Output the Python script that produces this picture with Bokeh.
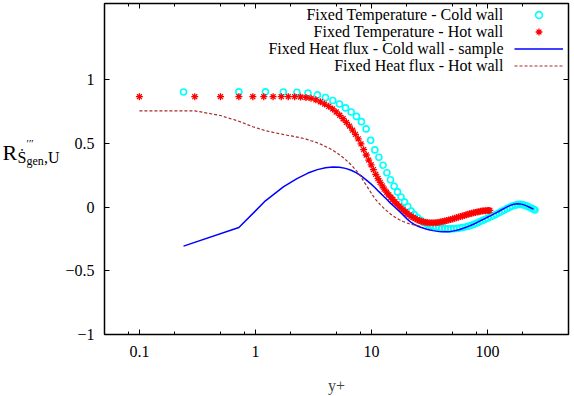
from bokeh.plotting import figure
from bokeh.layouts import row
from bokeh.models import (ColumnDataSource, FixedTicker, LogAxis, LinearAxis,
                          Range1d, Label, Legend, LegendItem, BasicTickFormatter)
from bokeh.core.properties import value
from bokeh.embed import file_html
from bokeh.resources import INLINE

# ---- data ---------------------------------------------------------------
# Fixed temperature, cold wall
ft_cold_y = [0.24, 0.72, 1.22, 1.74, 2.28, 2.84, 3.42, 4.02, 4.65, 5.30, 5.98,
             6.69, 7.43, 8.20, 9.0, 9.85, 10.7, 11.6, 12.6, 13.6, 14.6, 15.7,
             16.8, 18.0, 19.3, 20.6, 22.0, 23.4, 25.0, 26.6, 28.3, 30.1, 32.0,
             34.0, 36.1, 38.3, 40.6, 43.1, 45.7, 48.4, 51.3, 54.4, 57.6, 61.0,
             64.6, 68.4, 72.4, 76.6, 81.0, 85.7, 90.6, 95.8, 101, 107, 113,
             119, 126, 133, 140, 148, 156, 164, 173, 182, 191, 200, 210, 220,
             230, 240, 250, 257]
ft_cold_r = [0.905, 0.906, 0.906, 0.905, 0.903, 0.897, 0.882, 0.862, 0.838,
             0.810, 0.780, 0.748, 0.713, 0.672, 0.615, 0.525, 0.450, 0.392,
             0.330, 0.270, 0.215, 0.165, 0.120, 0.080, 0.040, 0.005, -0.030,
             -0.058, -0.083, -0.102, -0.120, -0.133, -0.143, -0.151, -0.158,
             -0.163, -0.166, -0.168, -0.170, -0.170, -0.169, -0.167, -0.164,
             -0.160, -0.155, -0.150, -0.143, -0.135, -0.125, -0.115, -0.105,
             -0.095, -0.085, -0.075, -0.065, -0.055, -0.044, -0.033, -0.022,
             -0.011, -0.001, 0.008, 0.015, 0.020, 0.022, 0.020, 0.015, 0.008,
             0.000, -0.008, -0.016, -0.022]

# Fixed temperature, hot wall
ft_hot_y = [0.1, 0.3, 0.5, 0.72, 0.95, 1.18, 1.42, 1.67, 1.92, 2.18, 2.45,
            2.73, 3.02, 3.32, 3.63, 3.95, 4.28, 4.62, 4.97, 5.33, 5.70, 6.08,
            6.47, 6.87, 7.28, 7.70, 8.13, 8.57, 9.02, 9.48, 9.95, 10.4, 10.9,
            11.4, 11.9, 12.4, 12.9, 13.5, 14.1, 14.7, 15.3, 15.9, 16.6, 17.3,
            18.0, 18.7, 19.5, 20.3, 21.1, 22.0, 22.9, 23.8, 24.8, 25.8, 26.8,
            27.9, 29.0, 30.2, 31.4, 32.7, 34.0, 35.4, 36.8, 38.3, 39.8, 41.4,
            43.0, 44.7, 46.5, 48.3, 50.2, 52.2, 54.2, 56.3, 58.5, 60.8, 63.1,
            65.5, 68.0, 70.6, 73.2, 75.9, 78.7, 81.5, 84.4, 87.3, 90.3, 93.3,
            96.4, 99.5, 102.6, 105]
ft_hot_r = [0.868, 0.868, 0.868, 0.868, 0.868, 0.868, 0.868, 0.868, 0.868,
            0.868, 0.866, 0.862, 0.855, 0.843, 0.828, 0.810, 0.792, 0.772,
            0.748, 0.722, 0.695, 0.666, 0.637, 0.605, 0.572, 0.537, 0.497,
            0.452, 0.410, 0.370, 0.333, 0.295, 0.258, 0.225, 0.195, 0.167,
            0.142, 0.118, 0.097, 0.078, 0.060, 0.043, 0.025, 0.008, -0.007,
            -0.021, -0.035, -0.048, -0.060, -0.071, -0.081, -0.090, -0.098,
            -0.105, -0.110, -0.115, -0.118, -0.121, -0.122, -0.123, -0.123,
            -0.122, -0.120, -0.118, -0.115, -0.112, -0.108, -0.104, -0.100,
            -0.096, -0.092, -0.087, -0.083, -0.078, -0.074, -0.069, -0.065,
            -0.060, -0.056, -0.052, -0.048, -0.044, -0.041, -0.038, -0.035,
            -0.032, -0.030, -0.028, -0.027, -0.026, -0.025, -0.025]

# Fixed heat flux, cold wall (sampled)
fq_cold_y = [0.24, 0.72, 1.22, 1.74, 2.28, 2.84, 3.42, 4.02, 4.65, 5.30, 5.98,
             6.69, 7.43, 8.20, 9.0, 9.85, 10.7, 11.6, 12.6, 13.6, 14.6, 15.7,
             16.8, 18.0, 19.3, 20.6, 22.0, 23.4, 25.0, 26.6, 28.3, 30.1, 32.0,
             34.0, 36.1, 38.3, 40.6, 43.1, 45.7, 48.4, 51.3, 54.4, 57.6, 61.0,
             64.6, 68.4, 72.4, 76.6, 81.0, 85.7, 90.6, 95.8, 101, 107, 113,
             119, 126, 133, 140, 148, 156, 164, 173, 182, 191, 200, 210, 220,
             230, 240, 250]
fq_cold_r = [-0.306, -0.160, 0.050, 0.160, 0.225, 0.268, 0.295, 0.310, 0.316,
             0.314, 0.305, 0.290, 0.270, 0.245, 0.215, 0.185, 0.155, 0.122,
             0.090, 0.060, 0.032, 0.005, -0.020, -0.045, -0.072, -0.098,
             -0.120, -0.135, -0.148, -0.158, -0.166, -0.173, -0.179, -0.184,
             -0.188, -0.191, -0.193, -0.193, -0.192, -0.190, -0.186, -0.181,
             -0.175, -0.168, -0.160, -0.151, -0.142, -0.132, -0.121, -0.110,
             -0.099, -0.088, -0.077, -0.066, -0.055, -0.044, -0.032, -0.020,
             -0.009, 0.002, 0.012, 0.020, 0.025, 0.027, 0.026, 0.022, 0.016,
             0.008, 0.000, -0.008, -0.015]

# Fixed heat flux, hot wall
fq_hot_y = [0.1, 0.3, 0.5, 0.72, 0.95, 1.18, 1.42, 1.67, 1.92, 2.18, 2.45,
            2.73, 3.02, 3.32, 3.63, 3.95, 4.28, 4.62, 4.97, 5.33, 5.70, 6.08,
            6.47, 6.87, 7.28, 7.70, 8.13, 8.57, 9.02, 9.48, 9.95, 10.4, 10.9,
            11.4, 11.9, 12.4, 12.9, 13.5, 14.1, 14.7, 15.3, 15.9, 16.6, 17.3,
            18.0, 18.7, 19.5, 20.3, 21.1, 22.0, 22.9, 23.8, 24.8, 25.8, 26.8]
fq_hot_r = [0.757, 0.757, 0.720, 0.675, 0.632, 0.605, 0.588, 0.575, 0.563,
            0.555, 0.545, 0.535, 0.522, 0.510, 0.496, 0.480, 0.465, 0.448,
            0.430, 0.410, 0.390, 0.368, 0.345, 0.320, 0.295, 0.268, 0.238,
            0.205, 0.173, 0.142, 0.112, 0.085, 0.060, 0.040, 0.020, 0.004,
            -0.011, -0.027, -0.042, -0.055, -0.067, -0.077, -0.088, -0.097,
            -0.105, -0.112, -0.118, -0.124, -0.129, -0.134, -0.138, -0.141,
            -0.144, -0.146, -0.147]

series_names = ["Fixed Temperature - Cold wall",
                "Fixed Temperature - Hot wall",
                "Fixed Heat flux - Cold wall - sample",
                "Fixed Heat flux - Hot wall"]

x_major = [0.1, 1, 10, 100]
x_minor = [0.08, 0.2, 0.5, 0.8, 2, 5, 8, 20, 50, 80, 200]
y_major = [-1, -0.5, 0, 0.5, 1]

FONT = "Liberation Serif"
TITLE_W = 62   # strip on the left carrying the y-axis title

# ---- main figure --------------------------------------------------------
p = figure(width=574 - TITLE_W, height=396, x_axis_type="log",
           x_range=Range1d(0.05, 500), y_range=Range1d(-1, 1.6),
           output_backend="svg", toolbar_location=None,
           min_border_left=98 - TITLE_W, min_border_right=6,
           min_border_top=3, min_border_bottom=60)
p.grid.visible = False
p.outline_line_color = "black"
p.outline_line_width = 1.5
p.background_fill_color = "white"
p.border_fill_color = "white"

def style_axis(ax, ticks, minor, show_labels):
    ax.ticker = FixedTicker(ticks=ticks, minor_ticks=minor)
    ax.axis_line_color = None
    ax.major_tick_in = 5
    ax.major_tick_out = 0
    ax.minor_tick_in = 3
    ax.minor_tick_out = 0
    ax.major_tick_line_color = "black"
    ax.minor_tick_line_color = "black"
    ax.major_tick_line_width = 1
    ax.minor_tick_line_width = 1
    if show_labels:
        ax.formatter = BasicTickFormatter(use_scientific=False)
        ax.major_label_text_font = FONT
        ax.major_label_text_font_size = "16px"
        ax.major_label_text_color = "black"
    else:
        # mirrored ticks only
        ax.major_label_text_font_size = "1px"
        ax.major_label_text_color = None
        ax.major_label_standoff = 0

xax = p.xaxis[0]
style_axis(xax, x_major, x_minor, True)
xax.major_label_standoff = 11
xax.axis_label = "y+"
xax.axis_label_text_font = FONT
xax.axis_label_text_font_size = "16px"
xax.axis_label_text_font_style = "normal"
xax.axis_label_standoff = 17

yax = p.yaxis[0]
style_axis(yax, y_major, [], True)
yax.major_label_standoff = 10

top = LogAxis()
style_axis(top, x_major, x_minor, False)
p.add_layout(top, "above")
right = LinearAxis()
style_axis(right, y_major, [], False)
p.add_layout(right, "right")

# ---- data marks ---------------------------------------------------------
src_ftc = ColumnDataSource(dict(y=ft_cold_y, r=ft_cold_r))
src_fth = ColumnDataSource(dict(y=ft_hot_y, r=ft_hot_r))
src_fqc = ColumnDataSource(dict(y=fq_cold_y, r=fq_cold_r))
src_fqh = ColumnDataSource(dict(y=fq_hot_y, r=fq_hot_r))

r1 = p.scatter("y", "r", source=src_ftc, marker="circle", size=6,
               fill_color=None, line_color="#00ffff", line_width=1.6)
r2 = p.scatter("y", "r", source=src_fth, marker="asterisk", size=7,
               line_color="#ff0000", line_width=1.3)
r3 = p.line("y", "r", source=src_fqc, line_color="#0000ff", line_width=1.5)
r4 = p.line("y", "r", source=src_fqh, line_color="#a52a2a", line_width=1.2,
            line_dash="3 2")

# ---- key: right-aligned texts with samples to their right ----------------
row_y = [320, 303, 286, 269]
for name, yy in zip(series_names, row_y):
    p.add_layout(Label(x=399, y=yy, x_units="screen", y_units="screen",
                       text=name, text_font=FONT, text_font_size="16px",
                       text_align="right", text_baseline="middle",
                       text_color="black"))

key = Legend(items=[LegendItem(label=value(" "), renderers=[r])
                    for r in (r1, r2, r3, r4)],
             location=(410, 260), orientation="vertical",
             glyph_width=49, glyph_height=17, label_width=1, label_height=1,
             label_standoff=0, label_text_font_size="1px", padding=0,
             spacing=0, margin=0, border_line_color=None,
             background_fill_alpha=0)
p.add_layout(key, "center")

# ---- y-axis title strip: R with a compound subscript ----------------------
t = figure(width=TITLE_W, height=396, x_range=Range1d(0, TITLE_W),
           y_range=Range1d(0, 396), output_backend="svg",
           toolbar_location=None, min_border=0)
t.axis.visible = False
t.grid.visible = False
t.outline_line_color = None
t.background_fill_color = "white"
t.border_fill_color = "white"

title_parts = ["R", "\u1e60", "\u2032\u2032\u2032", "gen", ",U"]
title_sizes = ["22px", "16px", "11px", "12px", "16px"]
title_x = [2, 17, 26, 26, 43.5]
title_y = [218, 212, 229, 207, 212]
for txt, fs, lx, ly in zip(title_parts, title_sizes, title_x, title_y):
    t.text(x=[lx], y=[ly], text=[txt], text_font=value(FONT),
           text_font_size=value(fs), text_align="left",
           text_baseline="alphabetic", text_color="black")

layout = row(t, p)
open("out.html", "w").write(file_html(layout, INLINE))
